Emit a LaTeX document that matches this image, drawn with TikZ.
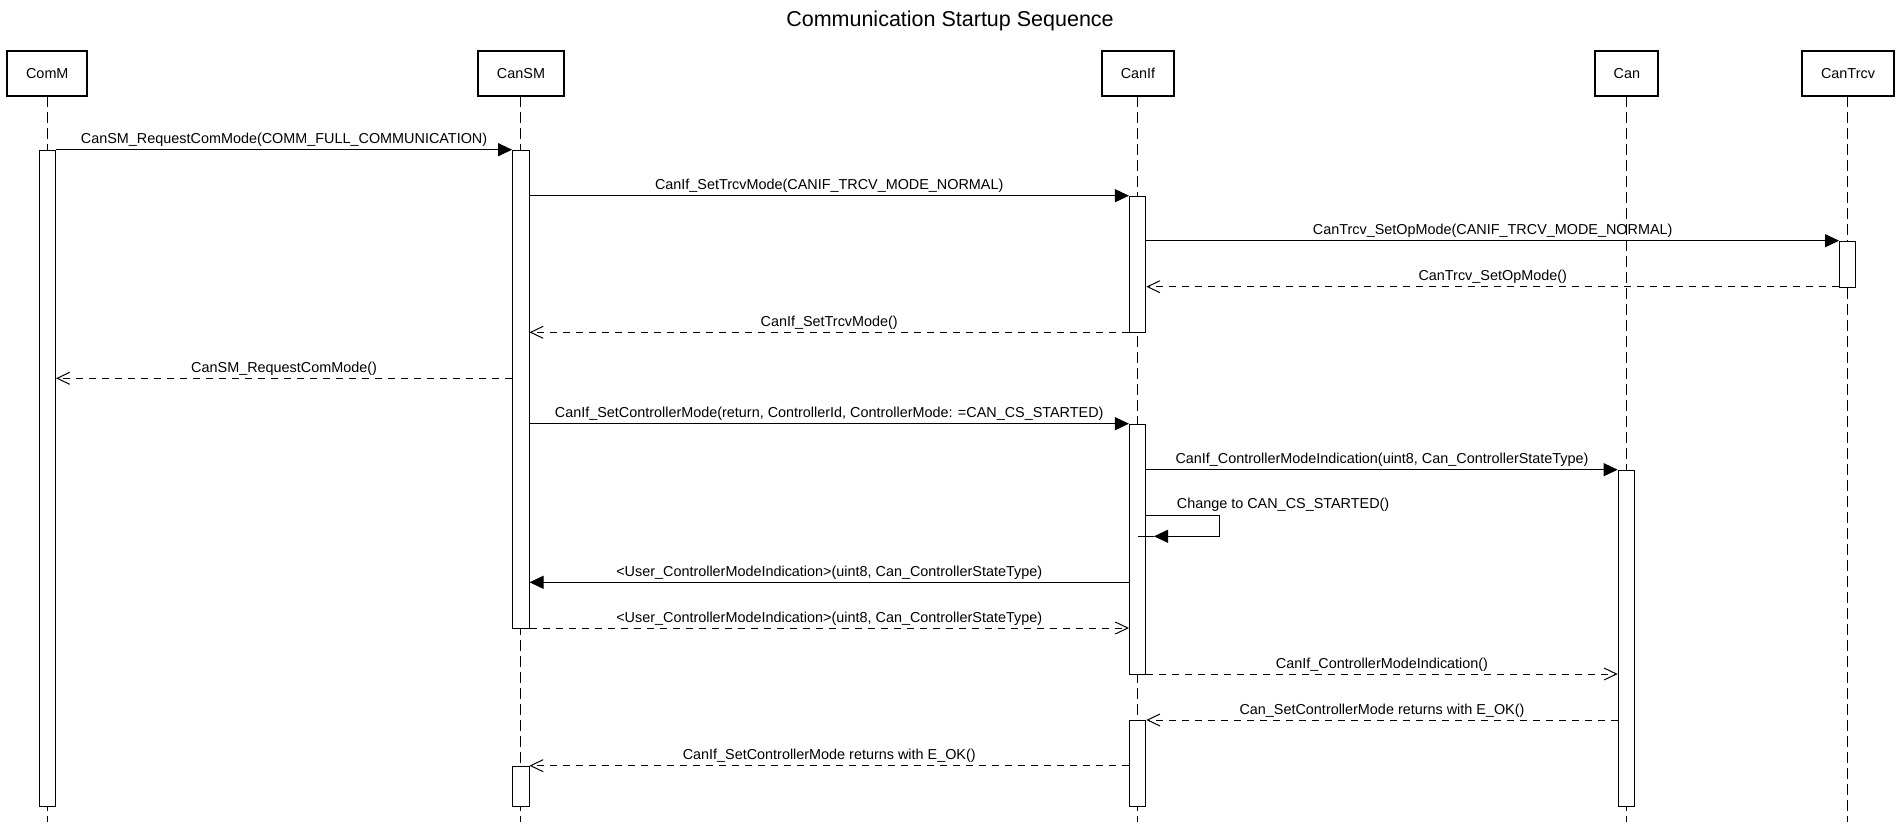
\documentclass[tikz,border=0pt]{standalone}
\usepackage{fontspec}
\setmainfont{Liberation Sans}
\usetikzlibrary{arrows.meta}
\begin{document}
\begin{tikzpicture}[x=1pt,y=-1pt,
  every node/.style={font=\fontsize{14.4}{17}\selectfont, text=black},
  head/.style={draw, line width=2pt, minimum height=45.3pt, inner sep=0pt, fill=white},
  life/.style={line width=1pt, dash pattern=on 11pt off 5pt},
  act/.style={draw, line width=1pt, fill=white, minimum width=16.4pt, inner sep=0pt, anchor=north},
  call/.style={line width=1pt, -{Triangle[length=14pt,width=13pt]}},
  reply/.style={line width=1pt, dash pattern=on 7pt off 6pt, -{Straight Barb[length=12.5pt,width=12pt]}},
  lbl/.style={anchor=base, inner sep=0pt, midway, yshift=6pt},
]
% canvas
\useasboundingbox (0,0) rectangle (1900,822);
\fill[white] (0,0) rectangle (1900,822);

% title
\node[anchor=base, inner sep=0pt, font=\fontsize{21.5}{25}\selectfont] (title) at (950,26.7) {Communication Startup Sequence};

% participants
\node[head, minimum width=80pt]   (ComM)    at (47.3,73.7)   {ComM};
\node[head, minimum width=85.6pt] (CanSM)   at (521.0,73.7)  {CanSM};
\node[head, minimum width=72pt]   (CanIf)   at (1138.0,73.7) {CanIf};
\node[head, minimum width=63.2pt] (Can)     at (1626.8,73.7) {Can};
\node[head, minimum width=91.5pt] (CanTrcv) at (1848.0,73.7) {CanTrcv};

\coordinate (bottom) at (0,822);

% lifelines
\foreach \p/\lx in {ComM/47.35, CanSM/520.8, CanIf/1137.65, Can/1626.35, CanTrcv/1847.75} {
  \draw[life] (\lx,96.3) -- (\lx,822);
}

% message rows
\coordinate (r1)  at (0,149.7);
\coordinate (r2)  at (0,195.7);
\coordinate (r3)  at (0,240.7);
\coordinate (r4)  at (0,286.7);
\coordinate (r5)  at (0,332.3);
\coordinate (r6)  at (0,378.3);
\coordinate (r7)  at (0,423.7);
\coordinate (r8)  at (0,469.7);
\coordinate (r9)  at (0,515.7);
\coordinate (r9b) at (0,536.3);
\coordinate (r10) at (0,582.3);
\coordinate (r11) at (0,628);
\coordinate (r12) at (0,674);
\coordinate (r13) at (0,720);
\coordinate (r14) at (0,765.7);

% activation bars
\node[act, minimum height=656.3pt] (ComMa)   at (47.35,149.7)  {};
\node[act, minimum height=478.3pt] (CanSMa1) at (520.8,149.7)  {};
\node[act, minimum height=40.3pt]  (CanSMa2) at (520.8,765.7)  {};
\node[act, minimum height=136.6pt] (CanIfa1) at (1137.65,195.7) {};
\node[act, minimum height=250.3pt] (CanIfa2) at (1137.65,423.7) {};
\node[act, minimum height=86pt]    (CanIfa3) at (1137.65,720)   {};
\node[act, minimum height=336.3pt] (Cana)    at (1626.35,469.7) {};
\node[act, minimum height=46pt]    (CanTrcva) at (1847.75,240.7) {};

% messages
\draw[call] (ComMa.east |- r1) -- (CanSMa1.west |- r1)
  node[lbl] (m1) {CanSM\_RequestComMode(COMM\_FULL\_COMMUNICATION)};
\draw[call] (CanSMa1.east |- r2) -- (CanIfa1.west |- r2)
  node[lbl] (m2) {CanIf\_SetTrcvMode(CANIF\_TRCV\_MODE\_NORMAL)};
\draw[call] (CanIfa1.east |- r3) -- (CanTrcva.west |- r3)
  node[lbl] (m3) {CanTrcv\_SetOpMode(CANIF\_TRCV\_MODE\_NORMAL)};
\draw[reply] (CanTrcva.west |- r4) -- (CanIfa1.east |- r4)
  node[lbl] (m4) {CanTrcv\_SetOpMode()};
\draw[reply] (CanIfa1.west |- r5) -- (CanSMa1.east |- r5)
  node[lbl] (m5) {CanIf\_SetTrcvMode()};
\draw[reply] (CanSMa1.west |- r6) -- (ComMa.east |- r6)
  node[lbl] (m6) {CanSM\_RequestComMode()};
\draw[call] (CanSMa1.east |- r7) -- (CanIfa2.west |- r7)
  node[lbl] (m7) {CanIf\_SetControllerMode(return, ControllerId, ControllerMode: =CAN\_CS\_STARTED)};
\draw[call] (CanIfa2.east |- r8) -- (Cana.west |- r8)
  node[lbl] (m8) {CanIf\_ControllerModeIndication(uint8, Can\_ControllerStateType)};

% self call on CanIf
\coordinate (selfR)   at (1219.3,515.7);
\coordinate (selfTip) at (1154,536.3);
\draw[call] (CanIfa2.east |- r9) -- (selfR) |- (selfTip);
\draw[line width=1pt] (CanIfa2.center |- r9b) -- (selfTip);
\node[anchor=base west, inner sep=0pt] (m9) at (1176.7,508.3) {Change to CAN\_CS\_STARTED()};

\draw[call] (CanIfa2.west |- r10) -- (CanSMa1.east |- r10)
  node[lbl] (m10) {<User\_ControllerModeIndication>(uint8, Can\_ControllerStateType)};
\draw[reply] (CanSMa1.east |- r11) -- (CanIfa2.west |- r11)
  node[lbl] (m11) {<User\_ControllerModeIndication>(uint8, Can\_ControllerStateType)};
\draw[reply] (CanIfa2.east |- r12) -- (Cana.west |- r12)
  node[lbl] (m12) {CanIf\_ControllerModeIndication()};
\draw[reply] (Cana.west |- r13) -- (CanIfa3.east |- r13)
  node[lbl] (m13) {Can\_SetControllerMode returns with E\_OK()};
\draw[reply] (CanIfa3.west |- r14) -- (CanSMa2.east |- r14)
  node[lbl] (m14) {CanIf\_SetControllerMode returns with E\_OK()};
\end{tikzpicture}
\end{document}
